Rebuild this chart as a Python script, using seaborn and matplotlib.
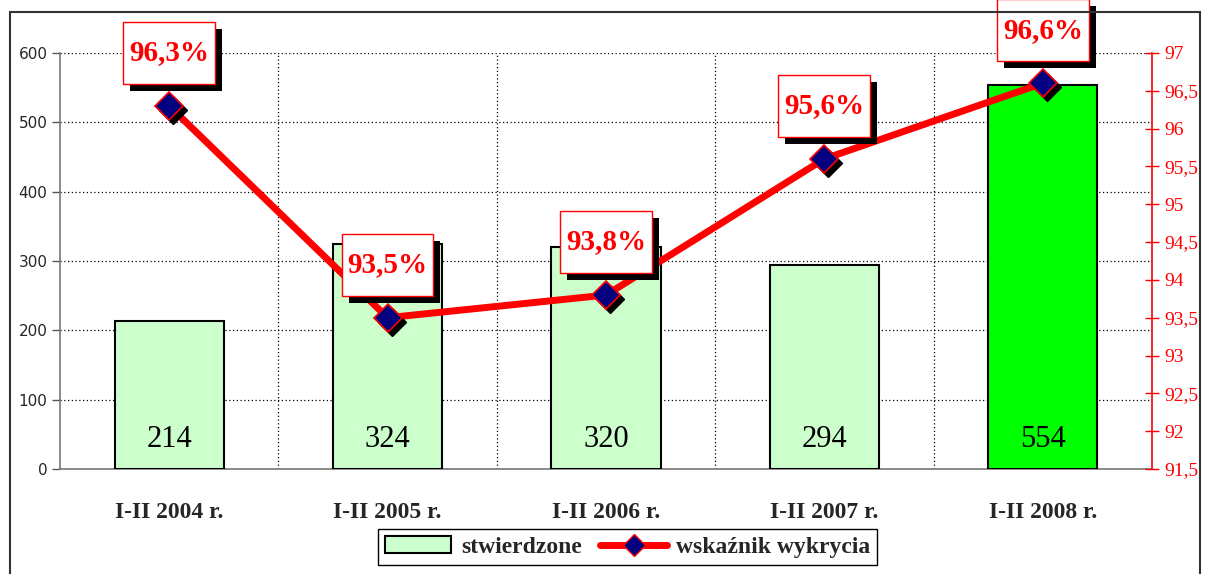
"""
Stwierdzone przestępstwa i wskaźnik wykrycia, I-II 2004-2008.
"""

import matplotlib.pyplot as plt
import matplotlib.patheffects as pe
import matplotlib.transforms as mtransforms
import numpy as np
import seaborn as sns
from matplotlib.lines import Line2D
from matplotlib.patches import Patch, Rectangle
from matplotlib.ticker import FuncFormatter, MultipleLocator

categories = ["I-II 2004 r.", "I-II 2005 r.", "I-II 2006 r.", "I-II 2007 r.", "I-II 2008 r."]
stwierdzone = [214, 324, 320, 294, 554]
wskaznik = [96.3, 93.5, 93.8, 95.6, 96.6]
bar_colors = ["#CCFFCC", "#CCFFCC", "#CCFFCC", "#CCFFCC", "#00FF00"]

SERIF = "Liberation Serif"

sns.set_style("white")

fig = plt.figure(figsize=(12.05, 5.74), dpi=100)
ax = fig.add_axes([0.0498, 0.1829, 0.9062, 0.7248])

# outer chart frame
fig.patches.append(Rectangle((0.0083, -0.02), 0.9876, 0.999, transform=fig.transFigure,
                             fill=False, edgecolor="#333333", linewidth=1.5))

x = np.arange(len(categories))
sns.barplot(x=x, y=stwierdzone, hue=x, palette=bar_colors, legend=False, saturation=1,
            width=0.5, edgecolor="black", linewidth=1.5, ax=ax, zorder=3)
ax.set_xlim(-0.5, len(categories) - 0.5)
ax.set_ylim(0, 600)
ax.yaxis.set_major_locator(MultipleLocator(100))
ax.set_xticks(x)
ax.set_xticklabels(categories, fontfamily=SERIF, fontweight="bold", fontsize=17)
ax.set_xticks(np.arange(len(categories) - 1) + 0.5, minor=True)
ax.tick_params(axis="x", which="major", length=0, pad=24)
ax.tick_params(axis="x", which="minor", length=9, width=1, color="black", direction="inout")
ax.tick_params(axis="y", length=6, width=1, color="#555555", labelsize=11, pad=3)
ax.grid(axis="y", which="major", color="black", linestyle=(0, (1, 2)), linewidth=0.9)
ax.grid(axis="x", which="minor", color="black", linestyle=(0, (1, 2)), linewidth=0.9)
ax.set_axisbelow(True)
for side in ["top", "right"]:
    ax.spines[side].set_visible(False)
ax.spines["left"].set_color("#777777")
ax.spines["bottom"].set_color("#777777")
ax.spines["left"].set_linewidth(1.2)
ax.spines["bottom"].set_linewidth(1.2)
ax.set_xlabel("")

for xi, v in zip(x, stwierdzone):
    ax.text(xi, 42, str(v), ha="center", va="center", fontfamily=SERIF,
            fontsize=22, color="black", zorder=5)

# detection rate on right axis
ax2 = ax.twinx()
ax2.set_ylim(91.5, 97)
ax2.yaxis.set_major_locator(MultipleLocator(0.5))
ax2.yaxis.set_major_formatter(FuncFormatter(lambda v, p: f"{v:g}".replace(".", ",")))
ax2.tick_params(axis="y", colors="red", length=10, width=1, direction="inout", pad=4)
for lab in ax2.get_yticklabels():
    lab.set_fontfamily(SERIF)
    lab.set_fontsize(14)
for side in ["top", "left", "bottom"]:
    ax2.spines[side].set_visible(False)
ax2.spines["right"].set_color("red")
ax2.spines["right"].set_linewidth(1.2)
ax2.grid(False)

sns.lineplot(x=x, y=wskaznik, color="red", linewidth=5, ax=ax2, zorder=4)
# marker shadow, shifted a few pixels down-right
shadow = mtransforms.offset_copy(ax2.transData, fig=fig, x=4, y=-4, units="dots")
ax2.plot(x, wskaznik, linestyle="none", marker="D", markersize=14, color="black",
         transform=shadow, zorder=4.5)
ax2.plot(x, wskaznik, linestyle="none", marker="D", markersize=14,
         markerfacecolor="#000080", markeredgecolor="red", markeredgewidth=1.2, zorder=5)

for xi, v in zip(x, wskaznik):
    t = ax2.annotate(f"{v:.1f}".replace(".", ",") + "%", (xi, v), xytext=(0, 53),
                     textcoords="offset pixels", ha="center", va="center",
                     fontfamily=SERIF, fontweight="bold", fontsize=21, color="red",
                     zorder=6,
                     bbox=dict(boxstyle="square,pad=0.2", facecolor="white",
                               edgecolor="red", linewidth=1, mutation_aspect=3.0))
    t.get_bbox_patch().set_path_effects([
        pe.SimplePatchShadow(offset=(5, -5), shadow_rgbFace="black", alpha=1),
        pe.Normal()])

handles = [
    Patch(facecolor="#CCFFCC", edgecolor="black", linewidth=1.5, label="stwierdzone"),
    Line2D([0], [0], color="red", linewidth=5, marker="D", markersize=11,
           markerfacecolor="#000080", markeredgecolor="red", label="wskaźnik wykrycia"),
]
fig.legend(handles=handles, loc="center", bbox_to_anchor=(0.521, 0.047), ncol=2,
           frameon=True, fancybox=False, edgecolor="black", framealpha=1,
           prop={"family": SERIF, "weight": "bold", "size": 17},
           handlelength=2.8, columnspacing=0.8, handletextpad=0.4, borderpad=0.3)

fig.savefig("out.png", dpi=100)
